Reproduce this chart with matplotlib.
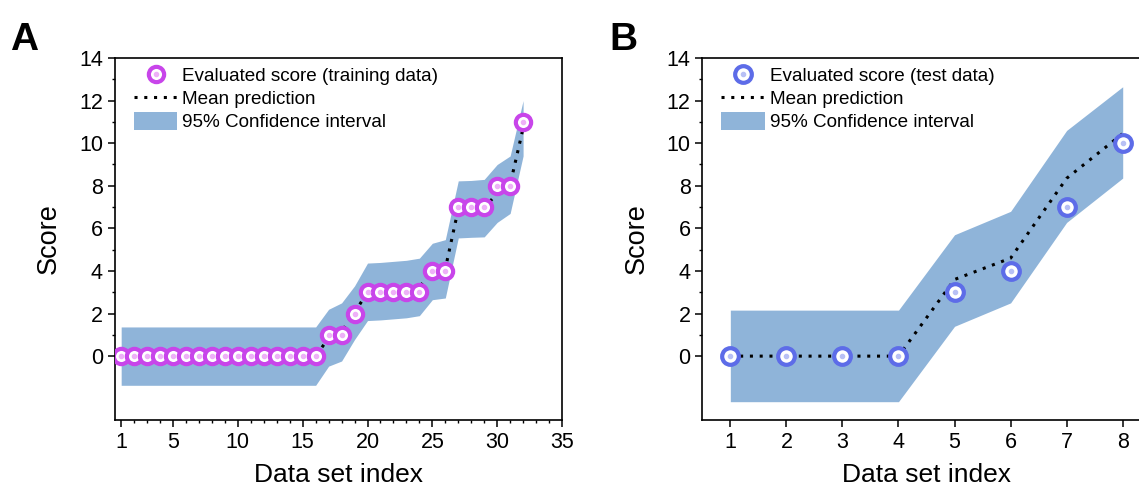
import matplotlib
matplotlib.use('Agg')
import matplotlib.pyplot as plt
from matplotlib.ticker import FixedLocator, MultipleLocator
from matplotlib.lines import Line2D
from matplotlib.patches import Patch

plt.rcParams['font.family'] = ['Liberation Sans', 'DejaVu Sans']

# panel A, training data
idx_a = [1, 2, 3, 4, 5, 6, 7, 8, 9, 10, 11, 12, 13, 14, 15, 16,
         17, 18, 19, 20, 21, 22, 23, 24, 25, 26, 27, 28, 29, 30, 31, 32]
score_a = [0, 0, 0, 0, 0, 0, 0, 0, 0, 0, 0, 0, 0, 0, 0, 0,
           1, 1, 2, 3, 3, 3, 3, 3, 4, 4, 7, 7, 7, 8, 8, 11]
mean_a = [0, 0, 0, 0, 0, 0, 0, 0, 0, 0, 0, 0, 0, 0, 0, 0,
          0.85, 1.15, 2.05, 3.0, 3.05, 3.1, 3.15, 3.25, 3.95, 4.1,
          6.9, 6.95, 6.95, 7.65, 8.05, 10.7]
upper_a = [1.37, 1.37, 1.37, 1.37, 1.37, 1.37, 1.37, 1.37, 1.37, 1.37, 1.37, 1.37, 1.37, 1.37, 1.37, 1.37,
           2.2, 2.5, 3.3, 4.37, 4.4, 4.45, 4.5, 4.6, 5.3, 5.47, 8.23, 8.25, 8.3, 9.0, 9.4, 12.0]
lower_a = [-1.37, -1.37, -1.37, -1.37, -1.37, -1.37, -1.37, -1.37, -1.37, -1.37, -1.37, -1.37, -1.37, -1.37, -1.37, -1.37,
           -0.47, -0.23, 0.78, 1.67, 1.7, 1.75, 1.8, 1.9, 2.65, 2.73, 5.55, 5.58, 5.6, 6.28, 6.7, 9.4]

# panel B, test data
idx_b = [1, 2, 3, 4, 5, 6, 7, 8]
score_b = [0, 0, 0, 0, 3, 4, 7, 10]
mean_b = [0, 0, 0, 0, 3.6, 4.6, 8.35, 10.45]
upper_b = [2.16, 2.16, 2.16, 2.16, 5.7, 6.8, 10.6, 12.65]
lower_b = [-2.14, -2.14, -2.14, -2.14, 1.4, 2.5, 6.28, 8.36]

band_color = '#8fb4d9'

fig = plt.figure(figsize=(11.39, 4.95), dpi=100)
ax_a = fig.add_axes([0.1007, 0.1515, 0.3927, 0.7313])
ax_b = fig.add_axes([0.6166, 0.1515, 0.3937, 0.7313])


def draw(ax, x, score, mean, lo, hi, ring, dot, label, ms):
    ax.fill_between(x, lo, hi, color=band_color, lw=0, zorder=1)
    ax.plot(x, mean, ls=(0, (1, 2.2)), color='black', lw=2.2, zorder=2)
    ax.plot(x, score, ls='none', marker='o', ms=ms, mfc='white', mec=ring, mew=3, zorder=3)
    ax.plot(x, score, ls='none', marker='o', ms=3, mfc=dot, mec=dot, zorder=4)

    handles = [
        (Line2D([], [], ls='none', marker='o', ms=ms, mfc='white', mec=ring, mew=3),
         Line2D([], [], ls='none', marker='o', ms=3, mfc=dot, mec=dot)),
        Line2D([], [], ls=(0, (1, 2.2)), color='black', lw=2.2),
        Patch(facecolor=band_color, edgecolor='none'),
    ]
    ax.legend(handles, [label, 'Mean prediction', '95% Confidence interval'],
              loc='upper left', bbox_to_anchor=(0.03, 0.993), frameon=False,
              fontsize=13.6, handlelength=2.3, handleheight=1.05,
              handletextpad=0.25, labelspacing=0.2, borderaxespad=0, borderpad=0.3)

    ax.set_ylim(-3, 14)
    ax.yaxis.set_major_locator(FixedLocator([0, 2, 4, 6, 8, 10, 12, 14]))
    ax.yaxis.set_minor_locator(FixedLocator([1, 3, 5, 7, 9, 11, 13]))
    ax.set_ylabel('Score', fontsize=19.5, labelpad=12)
    ax.set_xlabel('Data set index', fontsize=19, labelpad=7)
    ax.tick_params(which='major', direction='out', length=5, width=1.1, labelsize=15.5)
    ax.tick_params(which='minor', direction='out', length=2.5, width=1.0)
    for s in ax.spines.values():
        s.set_linewidth(1.2)


draw(ax_a, idx_a, score_a, mean_a, lower_a, upper_a,
     '#c845ea', '#eeb0f8', 'Evaluated score (training data)', 11)
ax_a.set_xlim(0.5, 35)
ax_a.set_xticks([1, 5, 10, 15, 20, 25, 30, 35])
ax_a.xaxis.set_minor_locator(MultipleLocator(1))

draw(ax_b, idx_b, score_b, mean_b, lower_b, upper_b,
     '#5d6ce8', '#b8c0f5', 'Evaluated score (test data)', 12)
ax_b.set_xlim(0.5, 8.5)
ax_b.set_xticks(idx_b)

fig.text(0.009, 0.955, 'A', fontsize=28, fontweight='bold', va='top', ha='left')
fig.text(0.535, 0.955, 'B', fontsize=28, fontweight='bold', va='top', ha='left')

fig.savefig('out.png', dpi=100)
